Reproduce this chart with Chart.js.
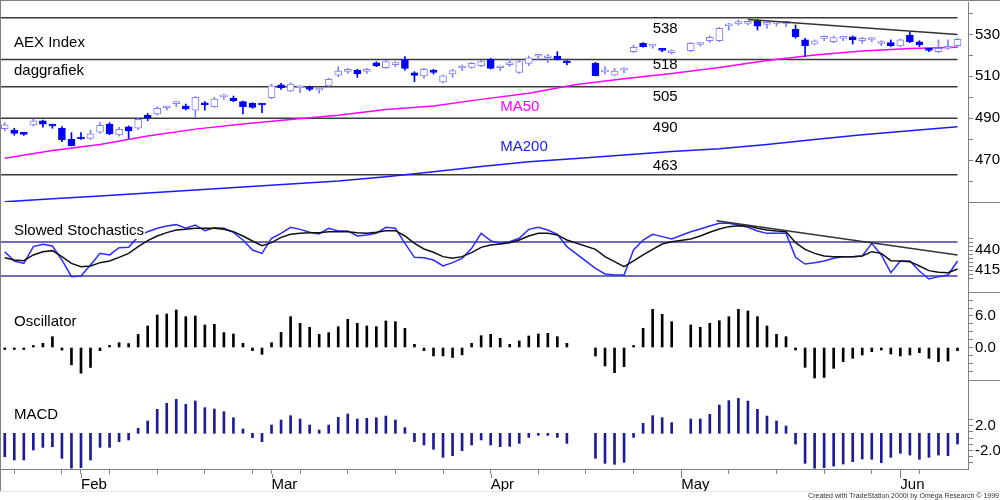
<!DOCTYPE html>
<html>
<head>
<meta charset="utf-8">
<title>AEX Index daggrafiek</title>
<script src="https://cdn.jsdelivr.net/npm/chart.js"></script>
<style>
html, body { margin: 0; padding: 0; background: #fff; }
#wrap { position: relative; width: 1000px; height: 500px; }
</style>
</head>
<body>
<div id="wrap"><canvas id="chart"></canvas></div>
<script>
'use strict';

// x axis: trading day index, month starts and weekly ticks
var monthLabels = ['Feb', 'Mar', 'Apr', 'May', 'Jun'];
var monthStarts = [8, 28, 51, 71, 94];
var axisTicks = [1, 6, 8, 11, 16, 21, 26, 28, 31, 36, 41, 46, 51, 56, 61, 66, 71, 76, 81, 86, 91, 94, 96];

// daily candles (null = no trading)
var open = [
  485.0, 484.4, 482.5, 486.8, 488.8, 486.8, 485.2, 479.9, 480.6, 480.4,
  483.3, 487.2, 482.0, 485.9, 485.2, 491.5, 492.0, 495.0, 497.0, 495.8,
  493.9, 497.4, 495.5, 500.2, 499.5, 497.9, 497.1, 496.8, 499.8, 505.9,
  503.1, 504.5, 504.8, 503.4, 505.4, 510.6, 512.4, 513.0, 512.4, 516.5,
  514.1, 515.6, 517.8, 511.7, 510.2, 513.0, 507.3, 511.1, 514.0, 514.3,
  515.1, 518.1, 514.1, 515.6, 511.9, 516.2, 519.6, 518.9, 519.7, 517.0,
  null, null, 516.2, 512.1, 510.6, 513.0, 521.8, 525.8, 524.4, 522.8,
  521.3, null, 522.3, 525.2, 527.0, 527.0, 534.1, 535.0, 535.3, 536.6,
  534.8, 535.3, 535.3, 532.5, 527.4, 525.4, 528.1, 526.5, 528.1, 528.9,
  527.0, 527.6, 525.7, 526.1, 524.5, 529.7, 526.5, 522.8, 521.8, 523.4,
  524.6
];
var high = [
  487.9, 485.2, 483.0, 489.5, 489.1, 487.2, 486.0, 483.1, 483.1, 484.4,
  487.9, 487.9, 485.7, 486.3, 490.4, 492.3, 495.5, 495.8, 497.9, 496.8,
  500.3, 497.9, 500.0, 501.4, 500.6, 498.2, 497.4, 497.1, 506.3, 506.7,
  506.9, 505.4, 505.4, 504.3, 509.1, 514.6, 513.8, 513.4, 513.8, 517.0,
  517.5, 517.0, 519.4, 512.2, 513.8, 513.4, 510.6, 513.4, 515.4, 516.7,
  517.5, 518.6, 514.9, 518.1, 517.5, 519.7, 520.5, 520.5, 521.8, 517.5,
  null, null, 516.7, 514.6, 513.8, 514.1, 525.0, 526.1, 525.4, 523.4,
  522.6, null, 526.1, 526.1, 529.3, 533.4, 535.3, 536.9, 536.1, 537.2,
  535.3, 536.1, 536.1, 534.5, 528.2, 527.4, 529.3, 529.3, 528.9, 529.3,
  528.6, 528.2, 527.0, 527.4, 527.8, 531.3, 527.0, 523.4, 527.4, 527.4,
  528.2
];
var low = [
  484.0, 481.9, 481.8, 486.3, 485.7, 485.2, 478.8, 476.7, 479.9, 479.9,
  482.8, 482.1, 481.5, 480.4, 484.7, 488.8, 491.5, 493.9, 495.5, 493.9,
  490.4, 493.9, 495.2, 499.0, 497.9, 492.0, 494.7, 492.6, 499.3, 503.8,
  502.7, 502.2, 503.1, 501.9, 504.8, 509.8, 511.4, 509.5, 511.4, 514.6,
  513.8, 514.6, 513.0, 507.4, 509.1, 511.1, 506.9, 509.5, 512.7, 513.8,
  514.6, 513.5, 512.7, 514.6, 511.4, 515.1, 517.8, 516.5, 517.8, 515.4,
  null, null, 510.2, 511.1, 510.2, 511.7, 521.3, 523.9, 523.4, 521.8,
  520.7, null, 521.8, 524.5, 526.1, 526.5, 532.1, 534.5, 534.5, 532.1,
  532.9, 534.0, 533.7, 528.2, 519.4, 525.0, 527.0, 526.1, 527.0, 525.4,
  525.8, 526.5, 524.6, 524.2, 524.2, 526.1, 524.2, 521.8, 521.3, 523.0,
  524.2
];
var close = [
  486.9, 482.8, 482.3, 488.8, 487.2, 486.3, 479.6, 476.9, 480.1, 482.5,
  486.6, 482.5, 484.7, 484.0, 489.5, 490.1, 494.7, 495.2, 497.2, 494.4,
  500.0, 496.3, 499.2, 500.3, 498.4, 495.5, 495.2, 496.3, 505.5, 504.6,
  506.3, 504.7, 503.8, 503.6, 508.6, 512.5, 512.6, 511.1, 512.6, 515.1,
  517.0, 515.8, 513.8, 510.5, 513.4, 511.9, 510.2, 512.7, 514.2, 516.2,
  517.0, 513.8, 514.3, 515.8, 517.0, 518.9, 519.8, 519.0, 518.1, 516.5,
  null, null, 510.3, 512.3, 512.5, 513.1, 523.9, 524.2, 524.5, 522.4,
  521.4, null, 525.8, 525.4, 528.6, 532.9, 534.2, 536.1, 535.4, 534.0,
  534.9, 535.4, 535.4, 528.9, 524.5, 527.0, 528.2, 528.5, 528.2, 527.4,
  528.2, 527.7, 525.8, 524.6, 527.4, 526.5, 525.0, 522.4, 523.4, 524.2,
  527.7
];

// moving averages, read every 5th day
var maDays = [0, 5, 10, 15, 20, 25, 30, 35, 40, 45, 50, 55, 60, 65, 70, 75, 80, 85, 90, 95, 100];
var ma50 = [470.9, 474.6, 477.5, 481.5, 484.8, 487.2, 489.4, 491.4, 494.2, 495.8, 499.0,
  501.9, 506.1, 508.8, 511.4, 514.2, 517.6, 520.2, 522.1, 523.3, 523.9];
var ma200 = [450.1, 451.5, 452.9, 454.3, 455.7, 457.2, 458.6, 460.0, 462.1, 464.4, 466.9,
  469.2, 470.8, 472.4, 474.1, 475.4, 477.5, 479.8, 482.1, 484.0, 485.9];

// support / resistance levels and trend lines
var levels = [538, 518, 505, 490, 463];
var priceTrendDays = [78, 100];
var priceTrendVals = [537.2, 530.0];

// slowed stochastics
var stochK = [
  437.9, 426.3, 423.3, 444.2, 447.1, 445.0, 427.5, 406.7, 407.5, 421.3,
  435.8, 433.8, 442.9, 443.3, 456.7, 462.9, 467.1, 470.0, 471.7, 467.1,
  471.3, 464.2, 467.9, 467.1, 462.1, 452.5, 440.0, 435.8, 454.6, 460.8,
  468.3, 465.8, 462.1, 460.0, 467.1, 463.8, 463.8, 457.5, 458.8, 460.8,
  468.3, 467.1, 448.3, 430.8, 430.4, 427.5, 420.0, 424.2, 429.6, 442.1,
  460.8, 451.7, 448.3, 450.4, 454.6, 465.8, 468.3, 465.0, 459.6, 444.2,
  null, null, 417.1, 410.0, 408.8, 408.8, 440.0, 452.5, 459.6, 456.7,
  453.8, null, 462.9, 466.3, 470.0, 473.3, 473.3, 471.3, 468.3, 463.8,
  460.8, 460.8, 460.8, 430.8, 422.5, 424.2, 426.3, 429.6, 431.7, 431.7,
  432.5, 448.3, 433.8, 411.7, 426.3, 426.3, 413.8, 403.8, 406.7, 408.8,
  426.3
];
var stochD = [
  430.4, 427.5, 426.7, 433.8, 437.9, 439.2, 431.7, 423.3, 419.2, 420.0,
  424.2, 426.3, 430.8, 435.8, 444.2, 451.7, 457.5, 461.7, 465.0, 465.8,
  467.1, 467.1, 467.1, 465.8, 462.9, 457.5, 451.3, 445.4, 449.2, 455.8,
  459.6, 460.8, 461.7, 461.7, 462.9, 462.9, 462.9, 461.7, 460.8, 462.1,
  464.2, 464.2, 457.5, 448.3, 441.3, 437.1, 431.7, 429.6, 431.7, 436.7,
  443.3, 446.3, 447.5, 449.2, 452.5, 457.5, 460.8, 460.8, 458.8, 452.5,
  null, null, 440.8, 431.7, 425.4, 419.2, 426.3, 433.8, 440.8, 447.5,
  450.4, null, 453.8, 457.5, 462.1, 466.3, 469.2, 470.4, 470.0, 467.1,
  465.0, 463.8, 462.9, 449.2, 440.8, 435.8, 432.5, 431.7, 431.7, 431.7,
  432.5, 437.9, 435.8, 426.7, 426.3, 425.4, 420.0, 414.2, 412.1, 411.7,
  416.3
];
var stochLevels = [450, 407.5];
var stochTrendDays = [74.7, 100];
var stochTrendVals = [476.6, 433.8];

// oscillator and MACD histograms
var oscillator = [
  -0.1, -0.15, -0.3, 0.1, 0.8, 2.06, -0.5, -3.3, -4.9, -3.8,
  -0.6, 0.4, 0.92, 0.75, 2.51, 4.1, 6.19, 6.38, 7.14, 5.87,
  6.0, 4.29, 4.41, 2.83, 2.57, 0.79, -0.6, -1.3, 0.92, 2.89,
  5.87, 4.6, 3.84, 2.51, 2.83, 3.97, 5.36, 4.6, 4.1, 3.97,
  5.05, 4.92, 3.65, 0.6, -0.6, -1.6, -1.6, -1.9, -1.4, 0.79,
  2.25, 2.51, 1.75, 0.6, 1.24, 2.19, 2.57, 2.7, 2.06, 0.79,
  null, null, -1.62, -3.52, -4.79, -3.65, 0.1, 3.65, 7.27, 6.32,
  4.92, null, 4.29, 3.84, 4.6, 5.1, 5.87, 7.27, 6.95, 5.87,
  4.1, 2.51, 2.06, -0.48, -3.78, -5.8, -5.7, -3.97, -2.7, -2.06,
  -1.43, -0.79, -0.48, -1.24, -1.62, -1.43, -0.98, -2.06, -2.7, -2.57,
  -0.6
];
var macd = [
  -3.0, -3.53, -3.53, -1.92, -1.49, -1.38, -3.26, -4.85, -4.77, -3.53,
  -1.49, -1.49, -0.58, -0.3, 1.58, 2.76, 4.64, 5.61, 6.25, 5.45,
  5.98, 4.91, 4.69, 4.26, 3.29, 1.47, 0.07, -0.58, 2.11, 2.92,
  3.62, 3.08, 2.11, 1.31, 2.11, 3.35, 3.89, 3.08, 3.19, 3.29,
  3.56, 2.92, 1.68, -0.58, -1.11, -1.81, -3.1, -2.84, -2.03, -1.11,
  -0.3, -1.11, -1.38, -1.33, -0.85, 0.12, 0.6, 0.55, 0.12, -0.85,
  null, null, -3.26, -4.07, -4.23, -3.9, 0.12, 2.38, 3.62, 3.29,
  2.49, null, 3.08, 3.08, 3.83, 5.34, 6.04, 6.41, 5.98, 4.64,
  3.56, 2.76, 1.95, -0.95, -4.07, -4.85, -4.77, -4.5, -4.18, -3.8,
  -3.37, -3.42, -3.97, -3.1, -2.45, -2.73, -3.42, -3.1, -2.73, -2.84,
  -0.95
];
var macdBase = 0.77;

// right axis ticks
var priceTicks = [460, 470, 480, 490, 500, 510, 520, 530, 540];
var priceLabels = [470, 490, 510, 530];
var stochTicks = [405, 410, 415, 420, 425, 430, 435, 440, 445, 450, 455];
var stochLabels = [415, 440];
var oscTicks = [-4.5, -3, -1.5, 0, 1.5, 3, 4.5, 6, 7.5, 9];
var oscLabels = [0, 6];
var macdTicks = [-4, -3, -2, -1, 0, 1, 2, 3];
var macdLabels = [-2, 2];


var FONT = '"Liberation Sans", Arial, sans-serif';
Chart.defaults.font.family = FONT;
Chart.defaults.font.size = 15;
Chart.defaults.color = '#000';

function points(days, vals) {
  var out = [];
  for (var k = 0; k < vals.length; k++) {
    if (vals[k] !== null) out.push({ x: days ? days[k] : k, y: vals[k] });
  }
  return out;
}

function flatLine(v) {
  return [{ x: -0.5, y: v }, { x: 100, y: v }];
}

var wickData = [], wickColor = [], bodyData = [], bodyFill = [], bodyEdge = [];
for (var i = 0; i < open.length; i++) {
  if (open[i] === null) continue;
  var up = close[i] >= open[i];
  wickData.push({ x: i, y: [low[i], high[i]] });
  wickColor.push(up ? '#8080ff' : '#0000ff');
  bodyData.push({ x: i, y: [Math.min(open[i], close[i]), Math.max(open[i], close[i])] });
  bodyFill.push(up ? '#ffffff' : '#0000ff');
  bodyEdge.push(up ? '#8080ff' : '#0000ff');
}

var datasets = [];
levels.forEach(function (v) {
  datasets.push({ type: 'line', data: flatLine(v), yAxisID: 'yPrice', borderColor: '#3a3a3a',
    borderWidth: 1.5, pointRadius: 0, order: 9 });
});
datasets.push({ type: 'line', data: points(maDays, ma50), yAxisID: 'yPrice', borderColor: '#ff00ff',
  borderWidth: 1.5, pointRadius: 0, order: 8 });
datasets.push({ type: 'line', data: points(maDays, ma200), yAxisID: 'yPrice', borderColor: '#1a1aff',
  borderWidth: 1.5, pointRadius: 0, order: 8 });
datasets.push({ type: 'bar', data: wickData, yAxisID: 'yPrice', backgroundColor: wickColor,
  borderWidth: 0, barThickness: 1, grouped: false, order: 6 });
datasets.push({ type: 'bar', data: bodyData, yAxisID: 'yPrice', backgroundColor: bodyFill,
  borderColor: bodyEdge, borderWidth: 1, borderSkipped: false, barThickness: 7, minBarLength: 2,
  grouped: false, order: 5 });
datasets.push({ type: 'line', data: points(priceTrendDays, priceTrendVals), yAxisID: 'yPrice',
  borderColor: '#333', borderWidth: 1.5, pointRadius: 0, order: 4 });

stochLevels.forEach(function (v) {
  datasets.push({ type: 'line', data: flatLine(v), yAxisID: 'yStoch', borderColor: '#3c3ca0',
    borderWidth: 1.5, pointRadius: 0, order: 9 });
});
datasets.push({ type: 'line', data: points(null, stochK), yAxisID: 'yStoch', borderColor: '#2b2bff',
  borderWidth: 1.5, pointRadius: 0, spanGaps: true, order: 3 });
datasets.push({ type: 'line', data: points(null, stochD), yAxisID: 'yStoch', borderColor: '#111',
  borderWidth: 1.5, pointRadius: 0, spanGaps: true, order: 2 });
datasets.push({ type: 'line', data: points(stochTrendDays, stochTrendVals), yAxisID: 'yStoch',
  borderColor: '#333', borderWidth: 1.5, pointRadius: 0, order: 1 });

datasets.push({ type: 'bar', data: points(null, oscillator), yAxisID: 'yOsc', backgroundColor: '#000',
  barThickness: 2, minBarLength: 2, grouped: false, order: 1 });
datasets.push({ type: 'bar', data: points(null, macd), yAxisID: 'yMacd', backgroundColor: '#1c1c96',
  barThickness: 2, minBarLength: 2, base: macdBase, grouped: false, order: 1 });

function rightAxis(id, min, max, tickVals, labelVals, digits, stackWeight, weight) {
  return {
    type: 'linear', position: 'right', stack: 'panels', stackWeight: stackWeight, weight: weight,
    min: min, max: max,
    afterFit: function (s) {
      s.width = 32;
      s.paddingTop = 0;
      s.paddingBottom = 0;
    },
    afterBuildTicks: function (s) { s.ticks = tickVals.map(function (v) { return { value: v }; }); },
    grid: { drawOnChartArea: false, drawTicks: true, tickLength: 5, tickColor: '#808080' },
    border: { display: true, color: '#808080', width: 1 },
    ticks: {
      autoSkip: false, padding: 2, color: '#000', font: { size: 15 },
      callback: function (v) { return labelVals.indexOf(v) >= 0 ? v.toFixed(digits) : ''; }
    }
  };
}

var decorations = {
  id: 'decorations',
  afterDatasetsDraw: function (chart) {
    var ctx = chart.ctx, sx = chart.scales.x, yp = chart.scales.yPrice;
    ctx.save();
    ctx.font = '15px ' + FONT;
    ctx.textBaseline = 'middle';
    ctx.textAlign = 'left';

    // panel titles
    var titles = [
      ['AEX Index', 'yPrice', 41], ['daggrafiek', 'yPrice', 69],
      ['Slowed Stochastics', 'yStoch', 29], ['Oscillator', 'yOsc', 30], ['MACD', 'yMacd', 35]
    ];
    titles.forEach(function (t) {
      var y = chart.scales[t[1]].top + t[2];
      var w = ctx.measureText(t[0]).width;
      ctx.fillStyle = '#fff';
      ctx.fillRect(12, y - 8, w + 3, 16);
      ctx.fillStyle = '#000';
      ctx.fillText(t[0], 14, y);
    });

    // level values
    var shift = [11.5, 5.5, 10, 10, -9];
    ctx.fillStyle = '#000';
    levels.forEach(function (v, k) {
      ctx.fillText(String(v), sx.getPixelForValue(68), yp.getPixelForValue(v) + shift[k]);
    });

    ctx.fillStyle = '#ff00ff';
    ctx.fillText('MA50', sx.getPixelForValue(52), yp.getPixelForValue(495.2));
    ctx.fillStyle = '#1a1aff';
    ctx.fillText('MA200', sx.getPixelForValue(52), yp.getPixelForValue(476.4));
    ctx.restore();
  },
  afterDraw: function (chart) {
    var ctx = chart.ctx, sx = chart.scales.x, W = chart.width;
    ctx.save();
    ctx.strokeStyle = '#808080';
    ctx.lineWidth = 1;
    ctx.beginPath();
    ctx.moveTo(0, 0.5); ctx.lineTo(W, 0.5);
    ctx.moveTo(0.5, 0); ctx.lineTo(0.5, 491);
    ['yPrice', 'yStoch', 'yOsc'].forEach(function (id) {
      var y = Math.round(chart.scales[id].bottom) + 0.5;
      ctx.moveTo(chart.chartArea.right, y); ctx.lineTo(W, y);
    });
    monthStarts.forEach(function (d) {
      var x = Math.round(sx.getPixelForValue(d)) + 0.5;
      ctx.moveTo(x, sx.top + 5); ctx.lineTo(x, sx.top + 9);
    });
    ctx.stroke();

    ctx.strokeStyle = '#e4e4e4';
    ctx.beginPath();
    ctx.moveTo(0, 491.5); ctx.lineTo(W, 491.5);
    ctx.stroke();

    ctx.fillStyle = '#333';
    ctx.font = '7px "Liberation Sans Narrow", ' + FONT;
    ctx.textAlign = 'right';
    ctx.textBaseline = 'middle';
    ctx.fillText('Created with TradeStation 2000i by Omega Research \u00a9 1999', W - 1, 496);
    ctx.restore();
  }
};

new Chart(document.getElementById('chart'), {
  data: { datasets: datasets },
  options: {
    responsive: true,
    maintainAspectRatio: false,
    animation: false,
    layout: { padding: { top: 2, left: 0, right: 0, bottom: 0 } },
    plugins: { legend: { display: false }, tooltip: { enabled: false } },
    scales: {
      x: {
        type: 'linear', position: 'bottom', min: -0.5, max: 101.1, offset: false,
        afterFit: function (s) {
          s.height = 31;
          s.paddingLeft = 0;
          s.paddingRight = 0;
        },
        afterBuildTicks: function (s) { s.ticks = axisTicks.map(function (v) { return { value: v }; }); },
        grid: { offset: false, drawOnChartArea: false, drawTicks: true, tickLength: 5, tickColor: '#808080' },
        border: { display: true, color: '#808080', width: 1 },
        ticks: {
          autoSkip: false, maxRotation: 0, align: 'start', padding: 2, color: '#000', font: { size: 15 },
          callback: function (v) {
            var k = monthStarts.indexOf(v);
            return k >= 0 ? monthLabels[k] : '';
          }
        }
      },
      yPrice: rightAxis('yPrice', 450, 545.5, priceTicks, priceLabels, 0, 200, 1),
      yStoch: rightAxis('yStoch', 387.5, 500, stochTicks, stochLabels, 0, 90, 2),
      yOsc: rightAxis('yOsc', -6.19, 10.57, oscTicks, oscLabels, 1, 88, 3),
      yMacd: rightAxis('yMacd', -4.98, 9.37, macdTicks, macdLabels, 1, 89, 4)
    }
  },
  plugins: [decorations]
});
</script>
</body>
</html>
